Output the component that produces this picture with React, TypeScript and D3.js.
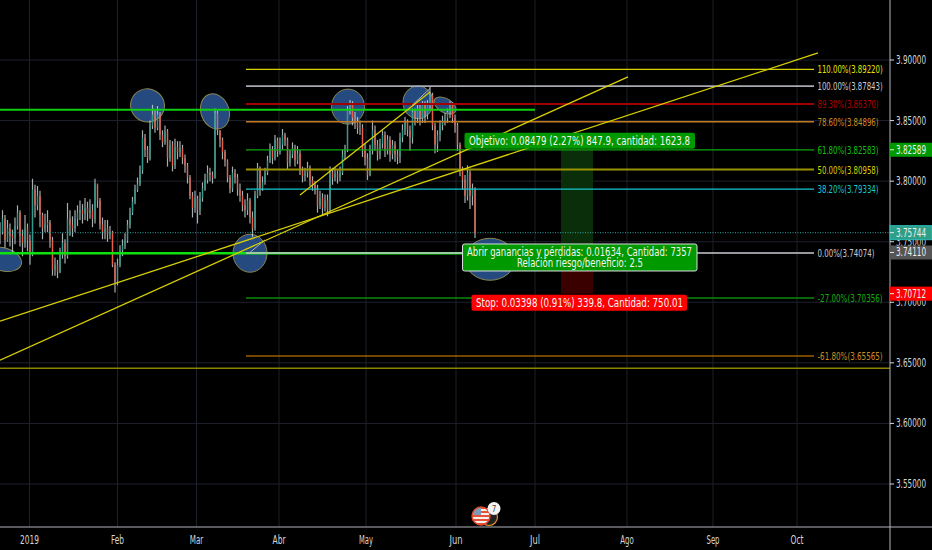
import * as d3 from 'd3'

const width = 932
const height = 550
const axisX = 890
const axisY = 527

// Bars are indexed; months are placed on the same bar index
const monthLabels = ['2019', 'Feb', 'Mar', 'Abr', 'May', 'Jun', 'Jul', 'Ago', 'Sep', 'Oct']
const monthBars = [11.8, 47, 78.6, 111.6, 146.4, 182.4, 214, 250.8, 285.2, 318.8]
const monthWidths = [19, 13, 13.5, 13, 14, 13, 10, 13.5, 13, 13]
const priceTicks = [3.9, 3.85, 3.8, 3.75, 3.7, 3.65, 3.6, 3.55]

const closes = [
  3.758, 3.769, 3.751, 3.761, 3.755, 3.753, 3.763, 3.774, 3.755, 3.749,
  3.761, 3.751, 3.739, 3.793, 3.78, 3.788, 3.772, 3.761, 3.764, 3.766,
  3.751, 3.727, 3.731, 3.725, 3.739, 3.749, 3.738, 3.769, 3.764, 3.761,
  3.769, 3.774, 3.776, 3.773, 3.778, 3.774, 3.776, 3.769, 3.798, 3.784,
  3.764, 3.758, 3.761, 3.756, 3.758, 3.731, 3.717, 3.731, 3.743, 3.747,
  3.751, 3.764, 3.774, 3.783, 3.793, 3.798, 3.809, 3.836, 3.826, 3.819,
  3.846, 3.855, 3.844, 3.855, 3.838, 3.832, 3.841, 3.819, 3.83, 3.813,
  3.828, 3.824, 3.827, 3.819, 3.813, 3.803, 3.788, 3.778, 3.786, 3.776,
  3.786, 3.794, 3.801, 3.807, 3.805, 3.803, 3.856, 3.842, 3.834, 3.824,
  3.817, 3.803, 3.794, 3.807, 3.803, 3.793, 3.788, 3.78, 3.776, 3.784,
  3.77, 3.761, 3.788, 3.811, 3.794, 3.799, 3.807, 3.817, 3.826, 3.819,
  3.834, 3.824, 3.83, 3.838, 3.834, 3.815, 3.822, 3.827, 3.817, 3.823,
  3.809, 3.804, 3.807, 3.811, 3.801, 3.797, 3.794, 3.78, 3.786, 3.778,
  3.784, 3.776, 3.807, 3.803, 3.806, 3.803, 3.807, 3.822, 3.826, 3.859,
  3.863, 3.852, 3.849, 3.844, 3.844, 3.826, 3.819, 3.805, 3.826, 3.842,
  3.83, 3.822, 3.831, 3.838, 3.826, 3.834, 3.822, 3.83, 3.822, 3.82,
  3.836, 3.842, 3.849, 3.842, 3.836, 3.857, 3.852, 3.86, 3.852, 3.863,
  3.855, 3.863, 3.871, 3.846, 3.83, 3.838, 3.846, 3.85, 3.852, 3.857,
  3.863, 3.852, 3.846, 3.83, 3.809, 3.801, 3.788, 3.807, 3.788, 3.793,
  3.757,
]
const highs = [
  3.766, 3.776, 3.772, 3.768, 3.765, 3.76, 3.77, 3.78, 3.776, 3.76,
  3.772, 3.765, 3.756, 3.802, 3.797, 3.796, 3.792, 3.774, 3.773, 3.776,
  3.768, 3.754, 3.737, 3.735, 3.745, 3.757, 3.752, 3.782, 3.776, 3.771,
  3.776, 3.78, 3.784, 3.781, 3.786, 3.783, 3.785, 3.781, 3.802, 3.797,
  3.786, 3.77, 3.768, 3.768, 3.763, 3.759, 3.733, 3.736, 3.747, 3.752,
  3.757, 3.768, 3.778, 3.787, 3.797, 3.803, 3.813, 3.842, 3.839, 3.829,
  3.85, 3.863, 3.859, 3.862, 3.857, 3.842, 3.846, 3.843, 3.834, 3.833,
  3.835, 3.833, 3.833, 3.83, 3.822, 3.815, 3.805, 3.791, 3.792, 3.788,
  3.791, 3.799, 3.806, 3.813, 3.811, 3.808, 3.86, 3.858, 3.842, 3.836,
  3.826, 3.818, 3.805, 3.812, 3.81, 3.806, 3.798, 3.792, 3.785, 3.79,
  3.786, 3.775, 3.792, 3.815, 3.812, 3.804, 3.811, 3.821, 3.831, 3.829,
  3.838, 3.836, 3.836, 3.843, 3.84, 3.836, 3.826, 3.832, 3.83, 3.829,
  3.826, 3.812, 3.811, 3.816, 3.813, 3.804, 3.8, 3.797, 3.792, 3.79,
  3.789, 3.789, 3.812, 3.811, 3.811, 3.809, 3.812, 3.826, 3.83, 3.862,
  3.867, 3.866, 3.857, 3.853, 3.85, 3.847, 3.831, 3.823, 3.83, 3.85,
  3.846, 3.834, 3.835, 3.842, 3.841, 3.838, 3.837, 3.834, 3.833, 3.826,
  3.84, 3.847, 3.853, 3.851, 3.846, 3.86, 3.86, 3.863, 3.863, 3.866,
  3.866, 3.867, 3.878, 3.873, 3.848, 3.842, 3.85, 3.854, 3.856, 3.86,
  3.866, 3.865, 3.855, 3.848, 3.832, 3.812, 3.805, 3.813, 3.809, 3.798,
  3.795,
]
const lows = [
  3.748, 3.756, 3.745, 3.75, 3.746, 3.74, 3.748, 3.76, 3.746, 3.738,
  3.745, 3.742, 3.731, 3.738, 3.77, 3.776, 3.762, 3.752, 3.758, 3.758,
  3.745, 3.722, 3.722, 3.72, 3.724, 3.736, 3.732, 3.736, 3.755, 3.754,
  3.758, 3.763, 3.768, 3.765, 3.768, 3.767, 3.769, 3.762, 3.765, 3.778,
  3.76, 3.752, 3.752, 3.75, 3.752, 3.729, 3.708, 3.714, 3.729, 3.738,
  3.744, 3.749, 3.761, 3.772, 3.781, 3.791, 3.796, 3.806, 3.82, 3.815,
  3.817, 3.843, 3.84, 3.842, 3.834, 3.828, 3.83, 3.812, 3.816, 3.808,
  3.81, 3.818, 3.82, 3.814, 3.807, 3.798, 3.785, 3.77, 3.774, 3.765,
  3.772, 3.783, 3.792, 3.798, 3.8, 3.798, 3.802, 3.838, 3.828, 3.818,
  3.812, 3.799, 3.79, 3.791, 3.798, 3.788, 3.783, 3.775, 3.77, 3.772,
  3.765, 3.754, 3.759, 3.786, 3.788, 3.792, 3.797, 3.805, 3.815, 3.814,
  3.817, 3.82, 3.822, 3.826, 3.829, 3.81, 3.812, 3.819, 3.812, 3.814,
  3.805, 3.799, 3.8, 3.803, 3.796, 3.792, 3.789, 3.774, 3.777, 3.772,
  3.775, 3.771, 3.774, 3.797, 3.8, 3.798, 3.8, 3.805, 3.818, 3.824,
  3.855, 3.846, 3.843, 3.839, 3.838, 3.82, 3.813, 3.801, 3.804, 3.822,
  3.825, 3.817, 3.818, 3.827, 3.82, 3.822, 3.816, 3.818, 3.816, 3.814,
  3.815, 3.832, 3.838, 3.837, 3.825, 3.831, 3.846, 3.848, 3.846, 3.848,
  3.848, 3.851, 3.858, 3.842, 3.823, 3.824, 3.833, 3.842, 3.846, 3.848,
  3.852, 3.848, 3.84, 3.825, 3.804, 3.793, 3.782, 3.784, 3.777, 3.78,
  3.753,
]

const fibLabels = ['110.00%', '100.00%', '89.30%', '78.60%', '61.80%', '50.00%', '38.20%', '0.00%', '-27.00%', '-61.80%']
const fibPrices = [3.8922, 3.87843, 3.8637, 3.84896, 3.82583, 3.80958, 3.79334, 3.74074, 3.70356, 3.65565]
const fibColors = ['#d8d000', '#a8abb2', '#a00000', '#c47a1c', '#0ea80e', '#9a9400', '#14c8d0', '#c8cad0', '#0a8a0a', '#e88a00']
const fibTextColors = ['#e4e000', '#c8cad0', '#b00000', '#d08a20', '#10c010', '#d8d000', '#14c8d0', '#c8cad0', '#10b010', '#d08a20']
const fibWidths = [1.3, 1.8, 2, 1.5, 1.2, 2, 1.2, 1.4, 1.6, 1.2]
const fibStart = 98.4
const fibEnd = 325.6

// [bar, price, bar, price]
const trendLines = [
  [0, 3.6522, 251.2, 3.886],
  [0, 3.6844, 327.2, 3.9058],
  [120, 3.7885, 172, 3.8736],
]
const fibBaseLines = [
  [99.6, 3.7405, 106, 3.7515],
  [164.8, 3.8625, 172, 3.8765],
]

// [bar, price, rx, ry, rotation]
const ellipses = [
  [59, 3.8625, 17, 16.5, 20],
  [86, 3.8575, 14, 18, -20],
  [139.2, 3.8615, 16.5, 17.5, 0],
  [167.2, 3.865, 15, 16.5, 0],
  [178, 3.8625, 12, 7, 30],
  [100, 3.7405, 17, 19, 0],
  [1.2, 3.7355, 19, 11.5, 15],
  [196, 3.7355, 25, 21, 0],
]

const entryPrice = 3.7411
const targetPrice = 3.82589
const stopPrice = 3.70712
const lastPrice = 3.75744
const positionBars = [224.4, 237.2]

const x = d3.scaleLinear().domain([0, 356]).range([0, axisX])
const y = d3.scaleLinear().domain([3.9, 3.55]).range([60, 484])
const textStyle = { fontFamily: '"DejaVu Sans Condensed", "DejaVu Sans", sans-serif' }

const Label = ({ len, children, ...rest }: any) => (
  <text {...rest} style={textStyle} textLength={len} lengthAdjust="spacingAndGlyphs">{children}</text>
)

const PriceTag = ({ price, fill, text, stroke }: { price: number; fill: string; text: string; stroke?: string }) => (
  <g>
    <rect x={axisX} y={y(price) - 7} width={42} height={14} fill={fill} stroke={stroke} />
    <line x1={axisX} x2={axisX + 4} y1={y(price)} y2={y(price)} stroke="#e8e8e8" />
    <Label x={896} y={y(price) + 4} fill="#f0f0f0" fontSize={11.5} len={30}>{text}</Label>
  </g>
)

export default function App() {
  return (
    <svg width={width} height={height} style={{ position: 'absolute', left: 0, top: 0, background: '#000' }}>
      <defs>
        <clipPath id="plot"><rect x={0} y={0} width={axisX} height={axisY} /></clipPath>
        <clipPath id="flag"><circle cx={481} cy={516} r={9} /></clipPath>
      </defs>

      <g stroke="#1e212c" strokeWidth={1}>
        {priceTicks.map(t => <line key={t} x1={0} x2={axisX} y1={y(t)} y2={y(t)} />)}
        {monthBars.map(m => <line key={m} x1={x(m)} x2={x(m)} y1={0} y2={axisY} />)}
      </g>

      <g clipPath="url(#plot)">
        {/* position tool */}
        <rect x={x(positionBars[0])} width={x(positionBars[1]) - x(positionBars[0])} y={y(targetPrice)} height={y(entryPrice) - y(targetPrice)} fill="#0a2e0a" />
        <rect x={x(positionBars[0])} width={x(positionBars[1]) - x(positionBars[0])} y={y(entryPrice)} height={y(stopPrice) - y(entryPrice)} fill="#3a0000" />

        {ellipses.map(([b, p, rx, ry, r], i) => (
          <ellipse key={i} transform={`rotate(${r} ${x(b)} ${y(p)})`} cx={x(b)} cy={y(p)} rx={rx} ry={ry} fill="#254a80" stroke="#8a8650" strokeWidth={1} />
        ))}

        {/* candles */}
        {closes.map((c, i) => {
          const o = i === 0 ? c : closes[i - 1]
          return (
            <g key={i}>
              <line x1={x(i)} x2={x(i)} y1={y(highs[i])} y2={y(lows[i])} stroke="#c4cccc" strokeOpacity={0.85} strokeWidth={1.2} />
              <line x1={x(i)} x2={x(i)} y1={y(o)} y2={y(c)} stroke={c >= o ? '#2a9d8f' : '#e8604c'} strokeWidth={1.3} />
            </g>
          )
        })}

        <line x1={0} x2={x(214)} y1={y(3.859)} y2={y(3.859)} stroke="#0fd00f" strokeWidth={2} />
        <line x1={0} x2={x(185)} y1={y(3.7405)} y2={y(3.7405)} stroke="#0fe00f" strokeWidth={2.4} />
        <line x1={0} x2={axisX} y1={y(3.6455)} y2={y(3.6455)} stroke="#8a8400" strokeWidth={1.4} />
        <line x1={0} x2={axisX} y1={y(lastPrice)} y2={y(lastPrice)} stroke="#2aa5a0" strokeWidth={1} strokeDasharray="1 1.5" />

        {fibPrices.map((p, i) => (
          <line key={i} x1={x(fibStart)} x2={x(fibEnd)} y1={y(p)} y2={y(p)} stroke={fibColors[i]} strokeWidth={fibWidths[i]} />
        ))}
        {fibBaseLines.map(([b0, p0, b1, p1], i) => (
          <line key={i} x1={x(b0)} x2={x(b1)} y1={y(p0)} y2={y(p1)} stroke="#aeb2b8" strokeWidth={1} />
        ))}
        {trendLines.map(([b0, p0, b1, p1], i) => (
          <line key={i} x1={x(b0)} x2={x(b1)} y1={y(p0)} y2={y(p1)} stroke="#d8d000" strokeWidth={1.3} />
        ))}
      </g>

      {fibPrices.map((p, i) => {
        const text = `${fibLabels[i]}(${p.toFixed(5)})`
        return (
          <Label key={i} x={x(fibEnd) + 3.5} y={y(p) + 4} fill={fibTextColors[i]} fontSize={11} len={text.length * 4.07}>
            {text}
          </Label>
        )
      })}

      {/* position labels */}
      <rect x={464.5} y={y(targetPrice) - 17} width={230.5} height={16} rx={2} fill="#009900" />
      <Label x={469} y={y(targetPrice) - 5} fill="#f4f4f4" fontSize={12} len={221}>
        Objetivo: 0.08479 (2.27%) 847.9, cantidad: 1623.8
      </Label>
      <rect x={462.5} y={y(entryPrice) - 8.5} width={234.5} height={27} rx={2} fill="#009900" stroke="#d8dce0" />
      <Label x={467} y={y(entryPrice) + 3.5} fill="#f4f4f4" fontSize={11.5} len={225}>
        Abrir ganancias y pérdidas: 0.01634, Cantidad: 7357
      </Label>
      <Label x={517} y={y(entryPrice) + 14.5} fill="#f4f4f4" fontSize={11.5} len={126}>
        Relación riesgo/beneficio: 2.5
      </Label>
      <rect x={471.5} y={y(stopPrice) + 1} width={215.5} height={16} rx={2} fill="#ff0000" />
      <Label x={476} y={y(stopPrice) + 13} fill="#f4f4f4" fontSize={12} len={207}>
        Stop: 0.03398 (0.91%) 339.8, Cantidad: 750.01
      </Label>

      {/* axes */}
      <line x1={0} x2={width} y1={axisY} y2={axisY} stroke="#b2b5be" />
      <line x1={axisX} x2={axisX} y1={0} y2={height} stroke="#b2b5be" />
      {monthLabels.map((m, i) => (
        <Label key={m} x={x(monthBars[i])} y={544} textAnchor="middle" fill="#d4d6da" fontSize={11.5} len={monthWidths[i]}>{m}</Label>
      ))}
      {priceTicks.map(t => (
        <g key={t}>
          <line x1={axisX} x2={axisX + 4} y1={y(t)} y2={y(t)} stroke="#d4d6da" />
          <Label x={896} y={y(t) + 4} fill="#d4d6da" fontSize={11.5} len={30}>{t.toFixed(5)}</Label>
        </g>
      ))}
      <PriceTag price={targetPrice} fill="#009900" text="3.82589" />
      <PriceTag price={lastPrice} fill="#2f9e86" stroke="#2ac0c0" text="3.75744" />
      <PriceTag price={entryPrice} fill="#555555" text="3.74110" />
      <PriceTag price={stopPrice} fill="#ff0000" text="3.70712" />

      {/* event badge */}
      <circle cx={489} cy={517} r={8.5} fill="#222" stroke="#e89020" strokeWidth={1.2} />
      <g clipPath="url(#flag)">
        {[507, 511, 515, 519, 523].map(v => <rect key={v} x={471} y={v} width={20} height={2} fill="#e8503c" />)}
        {[509, 513, 517, 521].map(v => <rect key={v} x={471} y={v} width={20} height={2} fill="#f4f0ea" />)}
        <rect x={473} y={507} width={8} height={8} fill="#7a9cb4" />
      </g>
      <circle cx={481} cy={516} r={9} fill="none" stroke="#e2472c" strokeWidth={1.4} />
      <circle cx={494} cy={508.5} r={6.5} fill="#f4f4f4" />
      <text x={494} y={511.5} textAnchor="middle" fontSize={8} fill="#444" style={textStyle}>7</text>
    </svg>
  )
}
